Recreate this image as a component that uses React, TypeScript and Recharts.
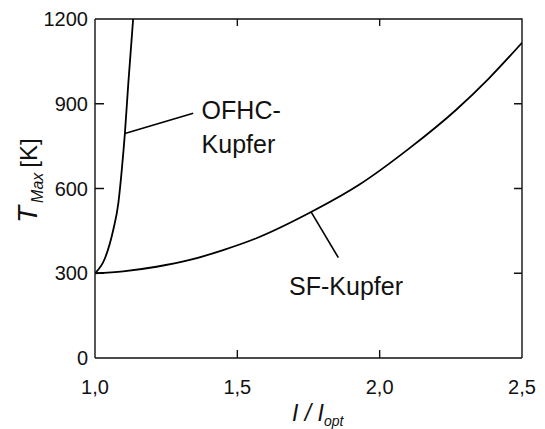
import React from 'react';
import { LineChart, Line, XAxis, YAxis, ReferenceLine, ReferenceDot, ReferenceArea } from 'recharts';

// ---- data ----
const ofhcI = [1.0, 1.035, 1.064, 1.082, 1.094, 1.105, 1.117, 1.134];
const ofhcT = [300, 353, 453, 548, 665, 795, 972, 1200];
const sfI = [1.0, 1.099, 1.216, 1.333, 1.45, 1.567, 1.754, 1.929, 2.104, 2.268, 2.384, 2.5];
const sfT = [300, 307, 323, 347, 382, 424, 514, 614, 742, 878, 990, 1116];
const xTicks = [1.0, 1.5, 2.0, 2.5];
const yTicks = [0, 300, 600, 900, 1200];
const ofhcLeader = [{ x: 1.105, y: 795 }, { x: 1.345, y: 866 }];
const sfLeader = [{ x: 1.759, y: 517 }, { x: 1.855, y: 355 }];
const ofhcLabel = ['OFHC-', 'Kupfer'];
const sfLabel = ['SF-Kupfer'];

const ofhcData = ofhcI.map((I, i) => ({ I, T: ofhcT[i] }));
const sfData = sfI.map((I, i) => ({ I, T: sfT[i] }));

const X_MIN = 1, X_MAX = 2.5, Y_MIN = 0, Y_MAX = 1200;

const FONT = "'Liberation Sans', Arial, Helvetica, sans-serif";
const AXC = '#111';
const AXW = 1.4;
const AX = { stroke: AXC, strokeWidth: AXW };
const fmtX = (v: number) => v.toFixed(1).replace('.', ',');

const innerX = (v: number) => v > X_MIN && v < X_MAX;
const innerY = (v: number) => v > Y_MIN && v < Y_MAX;

const BottomTick = (p: any) => {
  const x = Number(p.x), y = Number(p.y);
  const v = p.payload.value;
  return (
    <text x={x} y={y + 22} dy="0.71em" textAnchor="middle" fontFamily={FONT} fontSize={20} fill="#111">
      {fmtX(v)}
    </text>
  );
};
const LeftTick = (p: any) => {
  const x = Number(p.x), y = Number(p.y);
  const v = p.payload.value;
  return (
    <text x={x - 7} y={y} dy="0.355em" textAnchor="end" fontFamily={FONT} fontSize={20} fill="#111">
      {String(v)}
    </text>
  );
};

const annot = (lines: string[], dx: number, dy: number, gap: number) => (props: any) => {
  const vb = props.viewBox || {};
  const x0 = (vb.x || 0) + (vb.width || 0) / 2 + dx;
  const y0 = (vb.y || 0) + (vb.height || 0) / 2 + dy;
  return (
    <text x={x0} y={y0} fontFamily={FONT} fontSize={25} fill="#111" textAnchor="start">
      {lines.map((l, i) => (
        <tspan key={i} x={x0} y={y0 + i * gap}>{l}</tspan>
      ))}
    </text>
  );
};

// Top/right frame plus inward ticks on all four sides, laid out on the
// plot-area viewBox of a ReferenceArea spanning the full domain.
const FrameTicks = (props: any) => {
  const vb = props.viewBox || { x: 0, y: 0, width: 0, height: 0 };
  const { x, y, width, height } = vb;
  const sx = (v: number) => x + ((v - X_MIN) / (X_MAX - X_MIN)) * width;
  const sy = (v: number) => y + height - ((v - Y_MIN) / (Y_MAX - Y_MIN)) * height;
  let d = `M${x},${y}L${x + width},${y}L${x + width},${y + height}`;
  xTicks.filter(innerX).forEach((t) => {
    d += `M${sx(t)},${y}L${sx(t)},${y + 7}`;
    d += `M${sx(t)},${y + height}L${sx(t)},${y + height - 8}`;
  });
  yTicks.filter(innerY).forEach((t) => {
    d += `M${x + width},${sy(t)}L${x + width - 8},${sy(t)}`;
    d += `M${x},${sy(t)}L${x + 9},${sy(t)}`;
  });
  return <path d={d} stroke={AXC} strokeWidth={AXW} fill="none" />;
};

const YLabel = (props: any) => {
  const vb = props.viewBox || { x: 0, y: 0, width: 0, height: 0 };
  const cx = vb.x + 28.7;
  const cy = vb.y + 204;
  return (
    <text x={cx} y={cy} transform={`rotate(-90, ${cx}, ${cy})`} textAnchor="start" fontFamily={FONT} fill="#111">
      <tspan fontSize={28} fontStyle="italic">T</tspan>
      <tspan fontSize={16} fontStyle="italic" dx={3} dy={6.5}>Max</tspan>
      <tspan fontSize={24} dx={5} dy={-6.5}>{'[K]'}</tspan>
    </text>
  );
};

const XLabel = (props: any) => {
  const vb = props.viewBox || { x: 0, y: 0, width: 0, height: 0 };
  const x0 = vb.x + 197;
  const y0 = vb.y + 63;
  return (
    <text x={x0} y={y0} textAnchor="start" fontFamily={FONT} fill="#111" fontStyle="italic">
      <tspan fontSize={23}>I / I</tspan>
      <tspan fontSize={14} dy={5}>opt</tspan>
    </text>
  );
};

export default function App() {
  return (
    <LineChart width={530} height={421} margin={{ top: 11, right: 16, bottom: 0, left: 0 }}>
      <XAxis
        xAxisId="b"
        type="number"
        dataKey="I"
        domain={[X_MIN, X_MAX]}
        ticks={xTicks}
        allowDataOverflow
        height={71}
        tickLine={false}
        tickSize={0}
        tickMargin={0}
        tick={BottomTick}
        axisLine={AX}
        label={{ content: XLabel }}
      />
      <YAxis
        yAxisId="l"
        type="number"
        domain={[Y_MIN, Y_MAX]}
        ticks={yTicks}
        allowDataOverflow
        width={87}
        tickLine={false}
        tickSize={0}
        tickMargin={0}
        tick={LeftTick}
        axisLine={AX}
        label={{ content: YLabel }}
      />
      <Line xAxisId="b" yAxisId="l" data={sfData} dataKey="T" type="monotone" stroke="#000" strokeWidth={1.8} dot={false} activeDot={false} isAnimationActive={false} />
      <Line xAxisId="b" yAxisId="l" data={ofhcData} dataKey="T" type="monotone" stroke="#000" strokeWidth={1.8} dot={false} activeDot={false} isAnimationActive={false} />
      <ReferenceArea
        xAxisId="b"
        yAxisId="l"
        x1={X_MIN}
        x2={X_MAX}
        y1={Y_MIN}
        y2={Y_MAX}
        fill="none"
        fillOpacity={0}
        stroke="none"
        ifOverflow="visible"
        label={{ content: FrameTicks }}
      />
      <ReferenceLine xAxisId="b" yAxisId="l" segment={ofhcLeader} stroke="#000" strokeWidth={1.6} ifOverflow="visible" />
      <ReferenceLine xAxisId="b" yAxisId="l" segment={sfLeader} stroke="#000" strokeWidth={1.6} ifOverflow="visible" />
      <ReferenceDot xAxisId="b" yAxisId="l" x={ofhcLeader[1].x} y={ofhcLeader[1].y} r={0} fill="none" stroke="none" ifOverflow="visible" label={{ content: annot(ofhcLabel, 8.4, 5.7, 34) }} />
      <ReferenceDot xAxisId="b" yAxisId="l" x={sfLeader[1].x} y={sfLeader[1].y} r={0} fill="none" stroke="none" ifOverflow="visible" label={{ content: annot(sfLabel, -49.3, 37.3, 34) }} />
    </LineChart>
  );
}
